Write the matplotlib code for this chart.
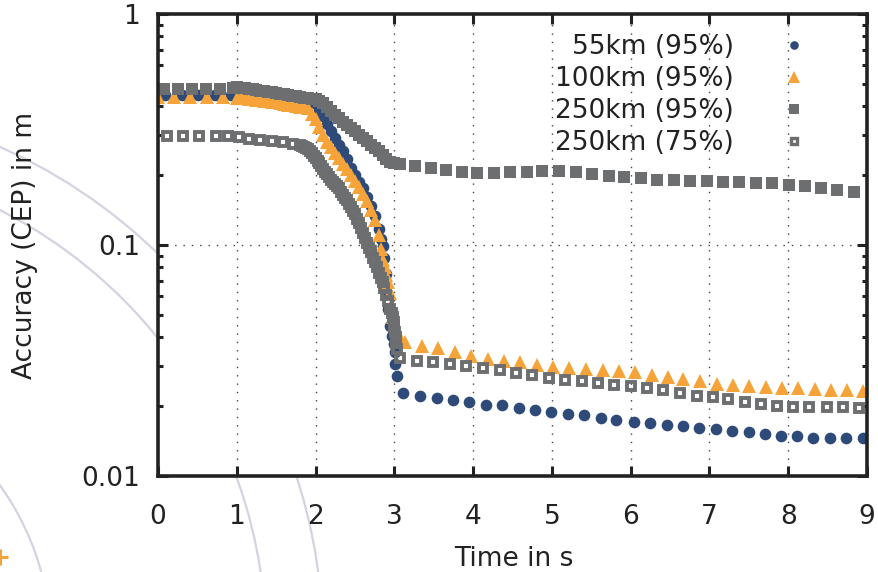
import numpy as np
import matplotlib
matplotlib.use("Agg")
import matplotlib.pyplot as plt
from matplotlib.patches import Circle
from matplotlib.ticker import LogLocator, NullFormatter, FixedLocator, FixedFormatter
from matplotlib.lines import Line2D

# ---------------- data ----------------
labels = ["55km (95%)", "100km (95%)", "250km (95%)", "250km (75%)"]

t_55 = [0.09, 0.30, 0.51, 0.72, 0.93,
        1.00, 1.05, 1.10, 1.15, 1.20, 1.25, 1.30, 1.35, 1.40, 1.45, 1.50, 1.55, 1.60, 1.65,
        1.70, 1.75, 1.80, 1.85, 1.90, 1.95, 2.00, 2.05, 2.10, 2.15, 2.20, 2.25, 2.30, 2.35,
        2.40, 2.45, 2.50, 2.55, 2.60, 2.65, 2.70, 2.75, 2.80, 2.83, 2.85, 2.87, 2.89, 2.91,
        2.92, 2.94, 2.97, 2.99, 3.01, 3.01, 3.03,
        3.11, 3.32, 3.54, 3.74, 3.95, 4.16, 4.37, 4.58, 4.78, 4.99, 5.20, 5.41, 5.62, 5.82,
        6.04, 6.24, 6.46, 6.66, 6.87, 7.08, 7.28, 7.50, 7.70, 7.91, 8.11, 8.31, 8.53, 8.73, 8.95]
v_55 = [0.445, 0.445, 0.445, 0.445, 0.445,
        0.443, 0.442, 0.440, 0.438, 0.437, 0.435, 0.434, 0.432, 0.431, 0.429, 0.428, 0.426, 0.424, 0.423,
        0.421, 0.419, 0.418, 0.416, 0.415, 0.413, 0.410, 0.385, 0.360, 0.335, 0.310, 0.290, 0.272, 0.255,
        0.235, 0.216, 0.200, 0.188, 0.176, 0.162, 0.148, 0.134, 0.117, 0.106, 0.099, 0.088, 0.075, 0.062,
        0.053, 0.0448, 0.0405, 0.0373, 0.0344, 0.0304, 0.0270,
        0.0229, 0.0222, 0.0218, 0.0214, 0.0209, 0.0203, 0.0202, 0.0197, 0.0193, 0.0190, 0.0186, 0.0184, 0.0179, 0.0175,
        0.0172, 0.0169, 0.0167, 0.0164, 0.0162, 0.0160, 0.0157, 0.0155, 0.0152, 0.0149, 0.0149, 0.0146, 0.0146, 0.0146, 0.0146]

t_100 = [0.00, 0.20, 0.41, 0.62, 0.83,
         1.00, 1.05, 1.10, 1.15, 1.20, 1.25, 1.30, 1.35, 1.40, 1.45, 1.50, 1.55, 1.60, 1.65,
         1.70, 1.75, 1.80, 1.85, 1.90, 1.95, 2.00, 2.05, 2.10, 2.15, 2.20, 2.25, 2.30, 2.35,
         2.40, 2.45, 2.50, 2.55, 2.60, 2.65, 2.70, 2.75, 2.80, 2.83, 2.86, 2.88, 2.90, 2.92,
         2.94, 2.96, 2.98, 3.00, 3.03, 3.05,
         3.13, 3.35, 3.55, 3.77, 3.97, 4.19, 4.39, 4.59, 4.81, 5.01, 5.22, 5.43, 5.65, 5.85,
         6.05, 6.27, 6.47, 6.67, 6.88, 7.09, 7.30, 7.50, 7.72, 7.92, 8.12, 8.34, 8.54, 8.74, 8.95]
v_100 = [0.436, 0.436, 0.436, 0.436, 0.436,
         0.435, 0.433, 0.431, 0.429, 0.427, 0.425, 0.423, 0.421, 0.419, 0.416, 0.414, 0.411, 0.408, 0.405,
         0.402, 0.400, 0.397, 0.394, 0.390, 0.370, 0.350, 0.325, 0.300, 0.280, 0.265, 0.250, 0.237, 0.225,
         0.213, 0.200, 0.190, 0.178, 0.167, 0.155, 0.142, 0.128, 0.110, 0.096, 0.086, 0.080, 0.074, 0.069,
         0.062, 0.055, 0.049, 0.045, 0.042, 0.041,
         0.0380, 0.0365, 0.0358, 0.0344, 0.0331, 0.0321, 0.0316, 0.0311, 0.0302, 0.0296, 0.0293, 0.0290, 0.0288, 0.0284,
         0.0281, 0.0274, 0.0269, 0.0263, 0.0257, 0.0250, 0.0248, 0.0245, 0.0242, 0.0240, 0.0240, 0.0238, 0.0236, 0.0235, 0.0233]

t_250 = [0.07, 0.26, 0.43, 0.61, 0.79,
         0.95, 1.00, 1.05, 1.10, 1.15, 1.20, 1.25, 1.30, 1.35, 1.40, 1.45, 1.50, 1.55, 1.60, 1.65,
         1.70, 1.75, 1.80, 1.85, 1.90, 1.95, 2.00, 2.05, 2.10, 2.15, 2.20, 2.25, 2.30, 2.35,
         2.40, 2.45, 2.50, 2.55, 2.60, 2.65, 2.70, 2.75, 2.80, 2.85, 2.90, 2.95, 3.00,
         3.07, 3.26, 3.46, 3.66, 3.86, 4.05, 4.26, 4.47, 4.68, 4.88, 5.09, 5.30, 5.51, 5.72,
         5.92, 6.13, 6.34, 6.55, 6.75, 6.97, 7.17, 7.38, 7.59, 7.80, 8.01, 8.21, 8.42, 8.62, 8.83]
v_250 = [0.475, 0.475, 0.475, 0.475, 0.475,
         0.480, 0.483, 0.480, 0.478, 0.475, 0.472, 0.469, 0.466, 0.463, 0.460, 0.458, 0.455, 0.452, 0.449, 0.446,
         0.443, 0.440, 0.437, 0.435, 0.432, 0.430, 0.427, 0.422, 0.410, 0.395, 0.380, 0.366, 0.354, 0.342,
         0.331, 0.320, 0.310, 0.300, 0.290, 0.281, 0.272, 0.263, 0.254, 0.245, 0.236, 0.228, 0.226,
         0.225, 0.219, 0.215, 0.211, 0.207, 0.205, 0.205, 0.2077, 0.2077, 0.2099, 0.2084, 0.2064, 0.2030, 0.1995,
         0.1963, 0.1943, 0.1917, 0.1911, 0.1898, 0.1887, 0.1879, 0.1868, 0.1861, 0.1850, 0.1824, 0.1795, 0.1760, 0.1735, 0.1701]

t_250b = [0.11, 0.32, 0.52, 0.74, 0.89, 1.03, 1.15, 1.29, 1.45, 1.59, 1.71,
          1.800, 1.825, 1.850, 1.875, 1.900, 1.925, 1.950, 1.975, 2.000, 2.025, 2.050, 2.075,
          2.100, 2.125, 2.150, 2.175, 2.200, 2.225, 2.250, 2.275, 2.300, 2.325, 2.350, 2.375,
          2.400, 2.425, 2.450, 2.475, 2.500, 2.525, 2.550, 2.575, 2.600, 2.625, 2.650, 2.675,
          2.700, 2.725, 2.750, 2.775, 2.800, 2.825, 2.850, 2.875, 2.900, 2.925, 2.950, 2.965,
          2.980, 2.990, 3.000, 3.010, 3.020, 3.025, 3.030,
          3.07, 3.29, 3.49, 3.71, 3.91, 4.13, 4.34, 4.54, 4.75, 4.96, 5.17, 5.38, 5.58, 5.79,
          6.00, 6.21, 6.41, 6.62, 6.84, 7.04, 7.24, 7.45, 7.66, 7.86, 8.06, 8.27, 8.49, 8.69, 8.90]
v_250b = [0.297, 0.297, 0.297, 0.297, 0.295, 0.2925, 0.2877, 0.2849, 0.283, 0.2787, 0.2743,
          0.270, 0.268, 0.266, 0.263, 0.260, 0.255, 0.250, 0.244, 0.238, 0.232, 0.226, 0.220,
          0.214, 0.208, 0.202, 0.197, 0.192, 0.188, 0.184, 0.180, 0.176, 0.170, 0.165, 0.160,
          0.156, 0.151, 0.146, 0.141, 0.136, 0.130, 0.125, 0.119, 0.113, 0.107, 0.102, 0.097,
          0.093, 0.088, 0.084, 0.080, 0.076, 0.072, 0.069, 0.065, 0.061, 0.057, 0.053, 0.051,
          0.049, 0.0465, 0.044, 0.042, 0.040, 0.0375, 0.0355,
          0.0324, 0.0315, 0.0311, 0.0305, 0.0299, 0.02925, 0.02877, 0.02793, 0.02738, 0.02657, 0.02612, 0.0257, 0.02527, 0.02485,
          0.02445, 0.02404, 0.02364, 0.02287, 0.02226, 0.02191, 0.02154, 0.02084, 0.0205, 0.02015, 0.01995, 0.01995, 0.01995, 0.01983, 0.0197]

x_ticks = [0, 1, 2, 3, 4, 5, 6, 7, 8, 9]
y_ticks = [0.01, 0.1, 1]
y_tick_labels = ["0.01", "0.1", "1"]

# ---------------- styling ----------------
NAVY = "#2e4a78"
ORANGE = "#f6a43a"
GRAY = "#6d6e70"
INK = "#222222"
FS = 19

plt.rcParams['font.family'] = ['DejaVu Sans']

fig = plt.figure(figsize=(8.79, 5.72), dpi=100, facecolor="white")

# decorative background arcs (slide background)
bg = fig.add_axes([0, 0, 1, 1], zorder=0)
bg.set_xlim(0, 879)
bg.set_ylim(572, 0)
bg.axis("off")
for r in (544, 487, 272):
    bg.add_patch(Circle((-221, 644), r, fill=False, edgecolor="#d3d3e2", linewidth=1.6))
bg.plot([-8, 8], [557, 557], color=ORANGE, linewidth=2.2, solid_capstyle="butt")
bg.plot([0, 0], [549, 565], color=ORANGE, linewidth=2.2, solid_capstyle="butt")

ax = fig.add_axes([158 / 879, 1 - 476 / 572, 709 / 879, 462 / 572], zorder=1)
ax.set_facecolor("white")
ax.set_axisbelow(True)

ax.plot(t_55, v_55, linestyle="none", marker="o", markersize=8.4, color=NAVY, markeredgewidth=0)
ax.plot(t_100, v_100, linestyle="none", marker="^", markersize=9.6, color=ORANGE, markeredgewidth=0)
ax.plot(t_250, v_250, linestyle="none", marker="s", markersize=8.0, color=GRAY, markeredgewidth=0)
ax.plot(t_250b, v_250b, linestyle="none", marker="s", markersize=6.0, markerfacecolor="none",
        markeredgecolor=GRAY, markeredgewidth=2.8)

ax.set_yscale("log")
ax.set_xlim(0, 9)
ax.set_ylim(0.01, 1)
ax.set_xticks(x_ticks)
ax.set_xticklabels([str(v) for v in x_ticks])
ax.yaxis.set_major_locator(FixedLocator(y_ticks))
ax.yaxis.set_major_formatter(FixedFormatter(y_tick_labels))
ax.yaxis.set_minor_locator(LogLocator(base=10, subs=np.arange(2, 10)))
ax.yaxis.set_minor_formatter(NullFormatter())

ax.tick_params(which="both", direction="in", top=True, right=True, color=INK, width=2.2,
               labelsize=FS, labelcolor=INK)
ax.tick_params(which="major", length=7.5)
ax.tick_params(which="minor", length=3.8)
ax.tick_params(axis="x", which="major", pad=20)
ax.tick_params(axis="y", which="major", pad=13)

for sp in ax.spines.values():
    sp.set_linewidth(2.6)
    sp.set_color(INK)

ax.grid(True, which="major", linestyle=(0, (1, 5)), linewidth=1.0, color="#444444")

ax.set_xlabel("Time in s", fontsize=FS, color=INK)
ax.set_ylabel("Accuracy (CEP) in m", fontsize=FS, color=INK)
ax.xaxis.set_label_coords(0.502, -0.151)
ax.yaxis.set_label_coords(-0.169, 0.5)

handles = [
    Line2D([], [], linestyle="none", marker="o", markersize=6.2, color=NAVY, markeredgewidth=0),
    Line2D([], [], linestyle="none", marker="^", markersize=8.6, color=ORANGE, markeredgewidth=0),
    Line2D([], [], linestyle="none", marker="s", markersize=7.0, color=GRAY, markeredgewidth=0),
    Line2D([], [], linestyle="none", marker="s", markersize=4.8, markerfacecolor="none",
           markeredgecolor=GRAY, markeredgewidth=2.4),
]
ax.legend(handles, labels, loc="upper right", bbox_to_anchor=(0.915, 0.956), markerfirst=False,
          frameon=False, handlelength=1.0, handletextpad=1.75, labelspacing=0.22, borderpad=0,
          borderaxespad=0, fontsize=FS, labelcolor=INK)

fig.savefig("out.png", dpi=100, facecolor="white")
